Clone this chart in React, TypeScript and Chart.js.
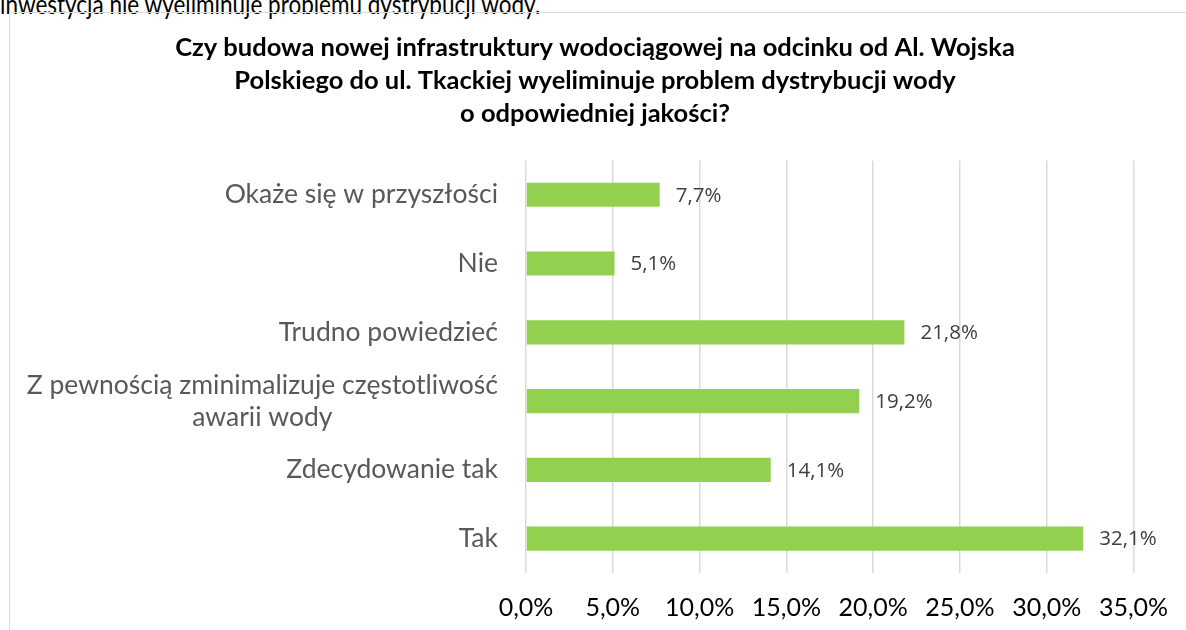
import React, { useEffect, useRef } from "react";
import { Chart, registerables } from "chart.js";

Chart.register(...registerables);

const titleLines = [
  "Czy budowa nowej infrastruktury wodociągowej na odcinku od Al. Wojska",
  "Polskiego do ul. Tkackiej wyeliminuje problem dystrybucji wody",
  "o odpowiedniej jakości?",
];
const introText = "inwestycja nie wyeliminuje problemu dystrybucji wody.";

const categories: (string | string[])[] = [
  "Okaże się w przyszłości",
  "Nie",
  "Trudno powiedzieć",
  ["Z pewnością zminimalizuje częstotliwość", "awarii wody"],
  "Zdecydowanie tak",
  "Tak",
];
const values = [7.7, 5.1, 21.8, 19.2, 14.1, 32.1];
const axisMax = 35;
const axisStep = 5;

const fmt = (v: number) => v.toFixed(1).replace(".", ",") + "%";

const labelPlugin = {
  id: "customLabels",
  afterDatasetsDraw(chart: any) {
    const ctx = chart.ctx;
    const area = chart.chartArea;
    const yScale = chart.scales.y;
    const xScale = chart.scales.x;
    const meta = chart.getDatasetMeta(0);
    ctx.save();
    // category labels
    ctx.font = "26.5px Lato";
    ctx.fillStyle = "#595959";
    ctx.textBaseline = "middle";
    const xRight = area.left - 28;
    categories.forEach((cat, i) => {
      const yc = yScale.getPixelForValue(i);
      const lines = Array.isArray(cat) ? cat : [cat];
      const lh = 32;
      if (lines.length === 1) {
        ctx.textAlign = "right";
        ctx.fillText(lines[0], xRight, yc);
      } else {
        const maxW = Math.max(...lines.map((l) => ctx.measureText(l).width));
        ctx.textAlign = "center";
        lines.forEach((l, j) => {
          ctx.fillText(l, xRight - maxW / 2, yc + (j - (lines.length - 1) / 2) * lh);
        });
      }
    });
    // value labels
    ctx.font = "20.5px 'Open Sans'";
    ctx.fillStyle = "#404040";
    ctx.textAlign = "left";
    meta.data.forEach((bar: any, i: number) => {
      ctx.fillText(fmt(values[i]), bar.x + 16, bar.y + 1);
    });
    // x tick labels
    ctx.font = "25px Lato";
    ctx.fillStyle = "#000000";
    ctx.textAlign = "center";
    xScale.ticks.forEach((t: any) => {
      const px = xScale.getPixelForValue(t.value);
      ctx.fillText(fmt(Number(t.value)), px, area.bottom + 35);
    });
    ctx.restore();
  },
};

export default function App() {
  const ref = useRef<HTMLCanvasElement | null>(null);
  useEffect(() => {
    if (!ref.current) return;
    const chart = new Chart(ref.current, {
      type: "bar",
      data: {
        labels: categories as any,
        datasets: [
          {
            data: values,
            backgroundColor: "#92D050",
            barPercentage: 0.7,
            categoryPercentage: 0.5,
          },
        ],
      },
      options: {
        indexAxis: "y",
        animation: false,
        responsive: false,
        devicePixelRatio: 1,
        layout: { padding: { left: 54, right: 50, top: 0, bottom: 0 } },
        plugins: {
          legend: { display: false },
          tooltip: { enabled: false },
          title: {
            display: true,
            text: titleLines,
            color: "#000000",
            font: { family: "Lato", size: 25.5, weight: "bold", lineHeight: 1.3 },
            padding: { top: 31, bottom: 30 },
          },
        },
        scales: {
          x: {
            min: 0,
            max: axisMax,
            ticks: {
              stepSize: axisStep,
              color: "rgba(0,0,0,0)",
              font: { family: "Lato", size: 22 },
              padding: 22,
              callback: (v: any) => fmt(Number(v)),
            },
            grid: { color: "#d9d9d9", lineWidth: 1.5, drawTicks: false },
            border: { display: false },
            afterFit: (s: any) => {
              s.height = 57;
            },
          },
          y: {
            ticks: { display: false },
            grid: { display: false },
            border: { display: false },
            afterFit: (s: any) => {
              s.width = 472;
            },
          },
        },
      },
      plugins: [labelPlugin],
    } as any);
    return () => chart.destroy();
  }, []);
  return (
    <div style={{ position: "absolute", left: 0, top: 0, width: 1186, height: 630, overflow: "hidden", background: "#fff" }}>
      <div
        style={{
          position: "absolute",
          left: 0,
          top: -11,
          fontFamily: "Lato",
          fontSize: 26,
          color: "#000",
          whiteSpace: "nowrap",
          lineHeight: "30px",
          transform: "scaleX(0.865)",
          transformOrigin: "left top",
        }}
      >
        {introText}
      </div>
      <div
        style={{
          position: "absolute",
          left: 9,
          top: 12,
          width: 1200,
          height: 700,
          border: "1px solid #d9d9d9",
        }}
      />
      <canvas ref={ref} width={1186} height={630} style={{ position: "absolute", left: 0, top: 0, width: 1186, height: 630 }} />
    </div>
  );
}
